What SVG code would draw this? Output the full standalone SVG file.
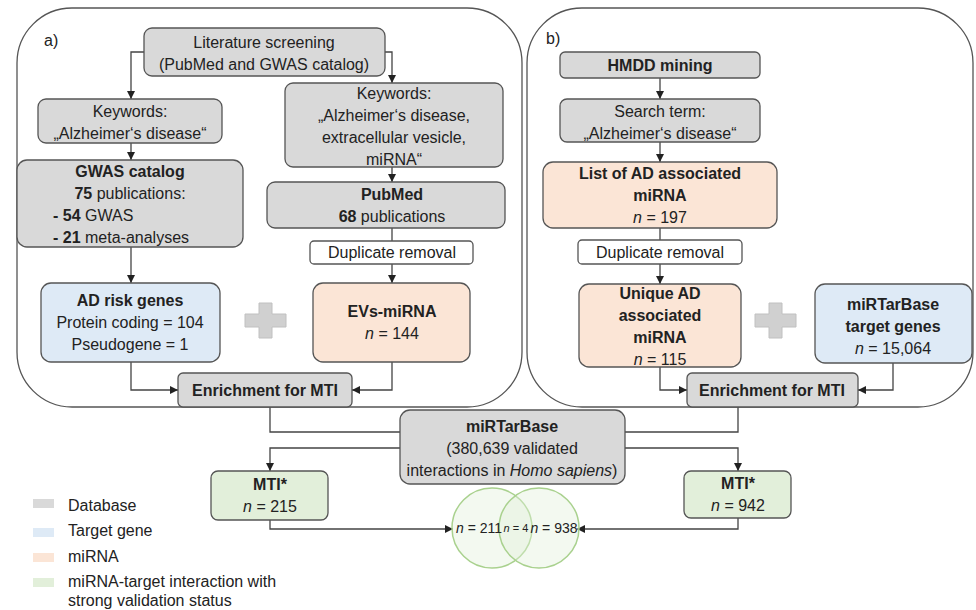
<svg xmlns="http://www.w3.org/2000/svg" width="976" height="610" viewBox="0 0 976 610">
<defs>
<marker id="ah" viewBox="0 0 8 8" refX="8" refY="4" markerWidth="8" markerHeight="8" markerUnits="userSpaceOnUse" orient="auto">
<path d="M0,0 L8,4 L0,8 z" fill="#222"/>
</marker>
</defs>
<style>
text{font-family:"Liberation Sans",Arial,sans-serif;font-size:16px;fill:#222;text-anchor:middle}
.b{font-weight:bold}
.i{font-style:italic}
.l{text-anchor:start}
.panel{fill:#fff;stroke:#555;stroke-width:1.3}
.db{fill:#d9d9d9;stroke:#555;stroke-width:1.3}
.tg{fill:#deeaf6;stroke:#555;stroke-width:1.3}
.mi{fill:#fbe5d6;stroke:#555;stroke-width:1.3}
.mt{fill:#e2efda;stroke:#555;stroke-width:1.3}
.wh{fill:#fff;stroke:#555;stroke-width:1.3}
.plus{fill:#d0d0d0;stroke:#c0c0c0;stroke-width:1}
.c{fill:none;stroke:#444;stroke-width:1.3}
.ca{fill:none;stroke:#444;stroke-width:1.3;marker-end:url(#ah)}
.venn{fill:#e2efda;fill-opacity:0.4;stroke:#a9d18e;stroke-width:1.5}
.sm{font-size:14px}
.xs{font-size:11px}
</style>

<g id="panel-a"><rect class="panel" x="17" y="8" width="505" height="399" rx="55"/><text class="l" x="44" y="46">a)</text></g>
<g id="panel-b"><rect class="panel" x="527" y="8" width="446" height="399" rx="55"/><text class="l" x="546" y="44">b)</text></g>

<g id="connectors">
<path class="ca" d="M144,52 H131 V99"/>
<path class="ca" d="M385,52 H392 V83"/>
<path class="ca" d="M131,143 V160"/>
<path class="ca" d="M392,167 V182"/>
<path class="c" d="M392,228 V241"/>
<path class="ca" d="M392,264 V283"/>
<path class="ca" d="M131,247 V283"/>
<path class="ca" d="M131,362 V390 H178"/>
<path class="ca" d="M392,362 V390 H352"/>
<path class="ca" d="M660,78 V99"/>
<path class="ca" d="M660,142 V162"/>
<path class="c" d="M660,228 V240"/>
<path class="ca" d="M660,264 V284"/>
<path class="ca" d="M660,367 V390 H687"/>
<path class="ca" d="M893,363 V390 H858"/>
<path class="c" d="M270,407 V432 H400"/>
<path class="c" d="M738,407 V432 H625"/>
<path class="ca" d="M400,448 H270 V471"/>
<path class="ca" d="M625,448 H738 V471"/>
<path class="ca" d="M270,520 V529 H453"/>
<path class="ca" d="M738,518 V529 H577"/>
</g>

<g id="lit"><rect class="db" x="144" y="28" width="241" height="48" rx="8"/><text x="264" y="48">Literature screening</text><text x="264" y="70">(PubMed and GWAS catalog)</text></g>
<g id="kw-left"><rect class="db" x="38" y="99" width="184" height="44" rx="8"/><text x="130" y="117">Keywords:</text><text x="130" y="139">„Alzheimer‘s disease“</text></g>
<g id="kw-right"><rect class="db" x="285" y="83" width="218" height="84" rx="8"/><text x="394" y="99">Keywords:</text><text x="394" y="121">„Alzheimer‘s disease,</text><text x="394" y="143">extracellular vesicle,</text><text x="394" y="165">miRNA“</text></g>
<g id="gwas"><rect class="db" x="17" y="160" width="226" height="87" rx="10"/><text class="b" x="130" y="177">GWAS catalog</text><text x="130" y="199"><tspan class="b">75</tspan> publications:</text><text class="l" x="53" y="221"><tspan class="b">- 54</tspan> GWAS</text><text class="l" x="53" y="243"><tspan class="b">- 21</tspan> meta-analyses</text></g>
<g id="pubmed"><rect class="db" x="267" y="182" width="238" height="46" rx="8"/><text class="b" x="392" y="200">PubMed</text><text x="392" y="222"><tspan class="b">68</tspan> publications</text></g>
<g id="dup-a"><rect class="wh" x="310" y="241" width="163" height="23" rx="4"/><text x="392" y="258">Duplicate removal</text></g>
<g id="ad-risk"><rect class="tg" x="41" y="283" width="179" height="79" rx="10"/><text class="b" x="130" y="306">AD risk genes</text><text x="130" y="328">Protein coding = 104</text><text x="130" y="350">Pseudogene = 1</text></g>
<g id="plus-a"><path class="plus" d="M259,303 h13 v11 h14 v13 h-14 v11 h-13 v-11 h-14 v-13 h14 z"/></g>
<g id="evs"><rect class="mi" x="313" y="283" width="157" height="79" rx="10"/><text class="b" x="392" y="317">EVs-miRNA</text><text x="392" y="339"><tspan class="i">n</tspan> = 144</text></g>
<g id="enrich-a"><rect class="db" x="178" y="373" width="174" height="34" rx="5"/><text class="b" x="265" y="396">Enrichment for MTI</text></g>

<g id="hmdd"><rect class="db" x="560" y="52" width="200" height="26" rx="5"/><text class="b" x="660" y="71">HMDD mining</text></g>
<g id="search"><rect class="db" x="560" y="99" width="200" height="43" rx="7"/><text x="660" y="117">Search term:</text><text x="660" y="139">„Alzheimer‘s disease“</text></g>
<g id="list"><rect class="mi" x="543" y="162" width="234" height="66" rx="10"/><text class="b" x="660" y="179">List of AD associated</text><text class="b" x="660" y="201">miRNA</text><text x="660" y="223"><tspan class="i">n</tspan> = 197</text></g>
<g id="dup-b"><rect class="wh" x="578" y="240" width="164" height="24" rx="4"/><text x="660" y="258">Duplicate removal</text></g>
<g id="unique"><rect class="mi" x="579" y="284" width="162" height="83" rx="10"/><text class="b" x="660" y="299">Unique AD</text><text class="b" x="660" y="321">associated</text><text class="b" x="660" y="343">miRNA</text><text x="660" y="365"><tspan class="i">n</tspan> = 115</text></g>
<g id="plus-b"><path class="plus" d="M769,303 h13 v11 h14 v13 h-14 v11 h-13 v-11 h-14 v-13 h14 z"/></g>
<g id="mtb-targets"><rect class="tg" x="815" y="284" width="157" height="79" rx="10"/><text class="b" x="893" y="310">miRTarBase</text><text class="b" x="893" y="332">target genes</text><text x="893" y="354"><tspan class="i">n</tspan> = 15,064</text></g>
<g id="enrich-b"><rect class="db" x="687" y="373" width="171" height="34" rx="5"/><text class="b" x="772" y="396">Enrichment for MTI</text></g>

<g id="mirtarbase"><rect class="db" x="400" y="410" width="225" height="74" rx="10"/><text class="b" x="512" y="432">miRTarBase</text><text x="512" y="454">(380,639 validated</text><text x="512" y="476">interactions in <tspan class="i">Homo sapiens</tspan>)</text></g>
<g id="mti-left"><rect class="mt" x="211" y="471" width="117" height="49" rx="7"/><text class="b" x="270" y="490">MTI*</text><text x="270" y="512"><tspan class="i">n</tspan> = 215</text></g>
<g id="mti-right"><rect class="mt" x="684" y="471" width="107" height="47" rx="7"/><text class="b" x="738" y="489">MTI*</text><text x="738" y="511"><tspan class="i">n</tspan> = 942</text></g>
<g id="venn"><circle class="venn" cx="492" cy="528" r="40"/><circle class="venn" cx="539" cy="528" r="40"/><text class="sm" x="479" y="533"><tspan class="i">n</tspan> = 211</text><text class="xs" x="516" y="532"><tspan class="i">n</tspan> = 4</text><text class="sm" x="554" y="533"><tspan class="i">n</tspan> = 938</text></g>

<g id="legend">
<rect x="33" y="499" width="21" height="9" fill="#d9d9d9"/><text class="l" x="68" y="511">Database</text>
<rect x="33" y="528" width="21" height="9" fill="#deeaf6"/><text class="l" x="68" y="536">Target gene</text>
<rect x="33" y="553" width="21" height="9" fill="#fbe5d6"/><text class="l" x="68" y="562">miRNA</text>
<rect x="33" y="578" width="21" height="9" fill="#e2efda"/><text class="l" x="68" y="587">miRNA-target interaction with</text><text class="l" x="68" y="606">strong validation status</text>
</g>
</svg>
